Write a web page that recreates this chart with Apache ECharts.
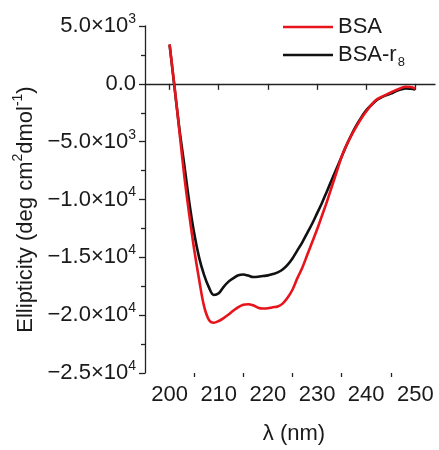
<!DOCTYPE html>
<html><head><meta charset="utf-8">
<script src="https://cdn.jsdelivr.net/npm/echarts@6/dist/echarts.min.js"></script>
<style>html,body{margin:0;padding:0;background:#fff}#c{width:439px;height:450px}</style>
</head><body><div id="c"></div>
<script>
const wavelength = [200,201,202,203,204,205,206,207,208,209,210,211,212,213,214,215,216,217,218,219,220,221,222,223,224,225,226,227,228,229,230,231,232,233,234,235,236,237,238,239,240,241,242,243,244,245,246,247,248,249,250];
const bsa = [3400,-200,-4100,-8000,-11300,-14300,-16900,-19200,-20400,-20650,-20500,-20250,-19950,-19600,-19300,-19100,-19050,-19150,-19350,-19420,-19400,-19320,-19250,-19000,-18500,-17800,-16800,-15900,-14800,-13700,-12600,-11400,-10200,-8900,-7600,-6300,-5300,-4450,-3700,-3000,-2400,-1850,-1400,-1150,-950,-750,-550,-380,-250,-280,-400];
const bsaR8 = [3400,-300,-3900,-7000,-10200,-12900,-15000,-16500,-17600,-18250,-18100,-17550,-17100,-16800,-16550,-16480,-16580,-16700,-16680,-16620,-16560,-16450,-16300,-16050,-15650,-15100,-14400,-13700,-12900,-12100,-11200,-10300,-9300,-8300,-7300,-6300,-5300,-4400,-3600,-2900,-2300,-1850,-1450,-1200,-1000,-850,-650,-500,-400,-430,-480];
const seriesNames = ['BSA', 'BSA-r8'];
const xMajorTicks = [200,210,220,230,240,250];
const xMinorTicks = [205,215,225,235,245];

const FONT = 'Liberation Sans, Arial, sans-serif';
const TXT = '#1a1a1a';
const chart = echarts.init(document.getElementById('c'));

function fmtY(v){
  if (v === 0) return '{m|0.0}';
  const e = Math.abs(v) >= 10000 ? 4 : 3;
  const m = (v / Math.pow(10, e)).toFixed(1).replace('-', '\u2212');
  return '{m|' + m + '\u00d710}{s|' + e + '}';
}
const pair = a => wavelength.map((x, i) => [x, a[i]]);

chart.setOption({
  animation: false,
  backgroundColor: '#fff',
  grid: {left: 145, top: 26, right: 4, bottom: 73, containLabel: false},
  legend: {
    data: seriesNames,
    orient: 'vertical', left: 283, top: 16, padding: 0,
    itemWidth: 50, itemHeight: 14, itemGap: 6,
    icon: 'path://M0,6 L50,6 L50,8.5 L0,8.5 Z',
    formatter: n => n === 'BSA-r8' ? '{m|BSA-r}{b|8}' : '{m|' + n + '}',
    textStyle: {color: TXT, fontFamily: FONT, fontSize: 22,
      rich: {m: {fontSize: 22, fontFamily: FONT, color: TXT},
             b: {fontSize: 13, fontFamily: FONT, color: TXT, padding: [14, 0, 0, 1]}}}
  },
  xAxis: [{
    type: 'value', min: 195, max: 254,
    name: '\u03bb (nm)', nameLocation: 'middle', nameGap: 50,
    nameTextStyle: {color: TXT, fontFamily: FONT, fontSize: 22, padding: [0, 0, 0, 8]},
    axisLine: {lineStyle: {color: '#222', width: 1.3}},
    axisTick: {show: true, customValues: xMajorTicks, length: 6, lineStyle: {color: '#222', width: 1.3}},
    axisLabel: {customValues: xMajorTicks, color: TXT, fontFamily: FONT, fontSize: 22, margin: 11},
    splitLine: {show: false}
  }, {
    type: 'value', min: 195, max: 254, position: 'bottom',
    axisLine: {show: false},
    axisTick: {show: true, customValues: xMinorTicks, length: 4, lineStyle: {color: '#222', width: 1.3}},
    axisLabel: {show: false},
    splitLine: {show: false}
  }],
  yAxis: {
    type: 'value', min: -25000, max: 5000, interval: 5000,
    name: '{a|Ellipticity (deg cm}{s|2}{a|dmol}{s|-1}{a|)}',
    nameLocation: 'middle', nameGap: 95, nameRotate: 90,
    nameTextStyle: {color: TXT, fontFamily: FONT, fontSize: 22, padding: [0, 20, 0, 0],
      rich: {a: {fontSize: 22, fontFamily: FONT, color: TXT},
             s: {fontSize: 14, fontFamily: FONT, color: TXT, padding: [0, 0, 14, 0]}}},
    axisLine: {show: true, lineStyle: {color: '#222', width: 1.3}},
    axisTick: {show: true, length: 6, lineStyle: {color: '#222', width: 1.3}},
    minorTick: {show: true, splitNumber: 2, length: 4, lineStyle: {color: '#222', width: 1.3}},
    axisLabel: {formatter: fmtY, margin: 9, color: TXT,
      rich: {m: {fontSize: 22, fontFamily: FONT, color: TXT},
             s: {fontSize: 14, fontFamily: FONT, color: TXT, padding: [0, 0, 14, 0]}}},
    splitLine: {show: false}
  },
  series: [
    {name: 'BSA-r8', type: 'line', data: pair(bsaR8), showSymbol: false, symbol: 'none', smooth: 0.35,
     lineStyle: {color: '#111', width: 2.6}, itemStyle: {color: '#111'}, z: 2},
    {name: 'BSA', type: 'line', data: pair(bsa), showSymbol: false, symbol: 'none', smooth: 0.35,
     lineStyle: {color: '#e8141c', width: 2.6}, itemStyle: {color: '#e8141c'}, z: 3}
  ]
});
</script></body></html>
